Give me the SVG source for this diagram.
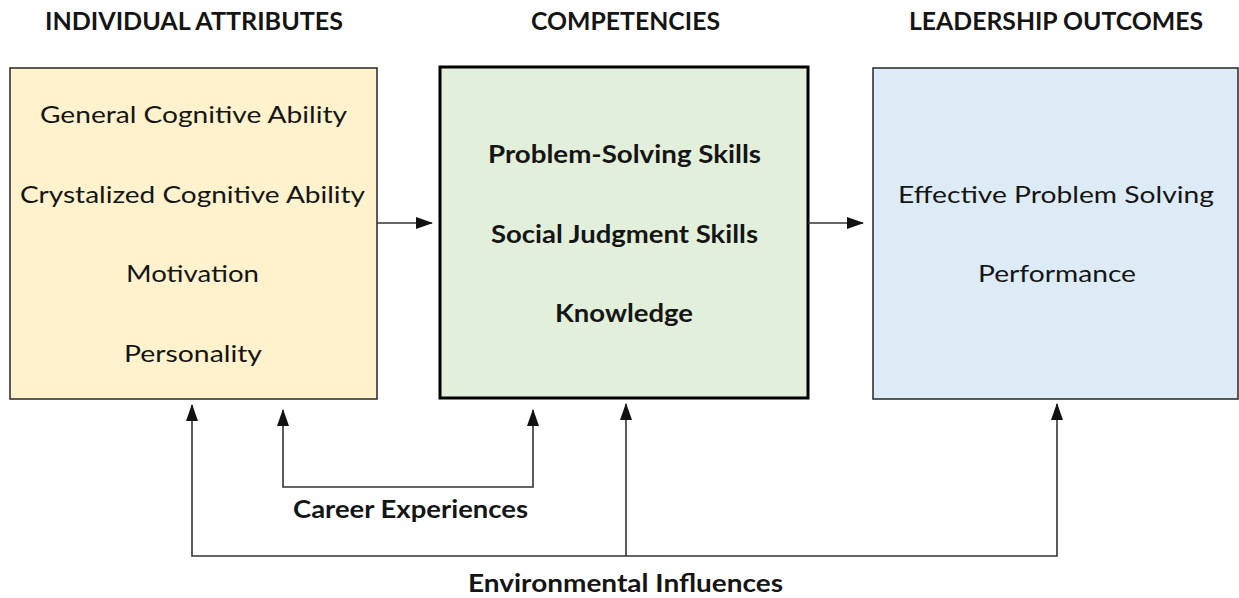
<svg xmlns="http://www.w3.org/2000/svg" width="1239" height="598" viewBox="0 0 1239 598">
<style>
.t{font-family:Lato,"Open Sans","Liberation Sans",sans-serif;font-size:24px;fill:#151515;text-anchor:middle}
.b{font-weight:bold}
.c{fill:none;stroke:#333;stroke-width:1.6}
</style>
<defs>
<marker id="ah" viewBox="0 0 17 12" refX="16" refY="6" markerWidth="17" markerHeight="12" markerUnits="userSpaceOnUse" orient="auto-start-reverse">
<path d="M0,0 L17,6 L0,12 Z" fill="#111"/>
</marker>
</defs>
<rect width="1239" height="598" fill="#fff"/>
<g id="headers">
<text class="t b" x="194" y="30" textLength="298" lengthAdjust="spacingAndGlyphs">INDIVIDUAL ATTRIBUTES</text>
<text class="t b" x="625.5" y="30" textLength="189" lengthAdjust="spacingAndGlyphs">COMPETENCIES</text>
<text class="t b" x="1056" y="30" textLength="294" lengthAdjust="spacingAndGlyphs">LEADERSHIP OUTCOMES</text>
</g>
<g id="attributes">
<rect x="10" y="68" width="367" height="331" fill="#FFF2CC" stroke="#333" stroke-width="1.6"/>
<text class="t" x="193.5" y="123" textLength="307" lengthAdjust="spacingAndGlyphs">General Cognitive Ability</text>
<text class="t" x="192.5" y="203" textLength="345" lengthAdjust="spacingAndGlyphs">Crystalized Cognitive Ability</text>
<text class="t" x="192.5" y="282" textLength="133" lengthAdjust="spacingAndGlyphs">Motivation</text>
<text class="t" x="193" y="362" textLength="138" lengthAdjust="spacingAndGlyphs">Personality</text>
</g>
<g id="competencies">
<rect x="440" y="67" width="368" height="331" fill="#E2EFDA" stroke="#000" stroke-width="3"/>
<text class="t b" x="624.5" y="163" textLength="273" lengthAdjust="spacingAndGlyphs">Problem-Solving Skills</text>
<text class="t b" x="624.5" y="243" textLength="267" lengthAdjust="spacingAndGlyphs">Social Judgment Skills</text>
<text class="t b" x="624" y="322" textLength="138" lengthAdjust="spacingAndGlyphs">Knowledge</text>
</g>
<g id="outcomes">
<rect x="873" y="68" width="365" height="331" fill="#DDEBF7" stroke="#333" stroke-width="1.6"/>
<text class="t" x="1056" y="203" textLength="316" lengthAdjust="spacingAndGlyphs">Effective Problem Solving</text>
<text class="t" x="1057" y="282" textLength="158" lengthAdjust="spacingAndGlyphs">Performance</text>
</g>
<g id="career">
<text class="t b" x="410.5" y="518" textLength="235" lengthAdjust="spacingAndGlyphs">Career Experiences</text>
</g>
<g id="environment">
<text class="t b" x="625.5" y="592" textLength="315" lengthAdjust="spacingAndGlyphs">Environmental Influences</text>
</g>
<g id="connectors">
<path class="c" d="M377,223 H432" marker-end="url(#ah)"/>
<path class="c" d="M808,223 H863" marker-end="url(#ah)"/>
<path class="c" d="M283,410 V487 H533 V410" marker-start="url(#ah)" marker-end="url(#ah)"/>
<path class="c" d="M192,405 V556 H1057 V404" marker-start="url(#ah)" marker-end="url(#ah)"/>
<path class="c" d="M626,556 V404" marker-end="url(#ah)"/>
</g>
</svg>
